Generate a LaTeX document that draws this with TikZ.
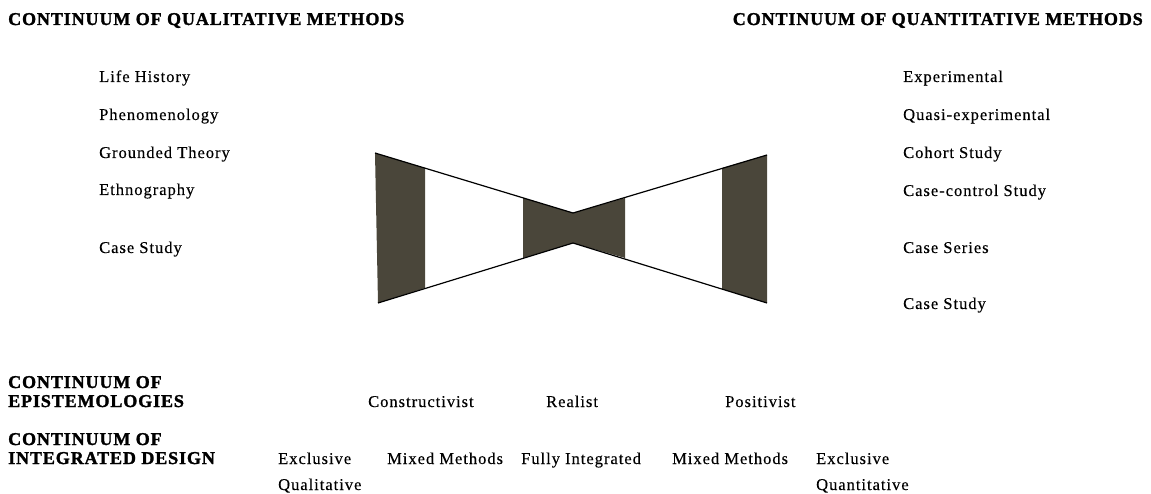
\documentclass[tikz,border=0pt]{standalone}
\usepackage{fontspec}
\setmainfont{Liberation Serif}
\newfontfamily\labfont{Liberation Serif}[LetterSpace=6, FakeBold=0.3]
\newfontfamily\headfont{Liberation Serif}[LetterSpace=5, FakeBold=1.6]
\definecolor{bandgray}{RGB}{74,70,58}

\tikzset{
    lab/.style={anchor=base west, inner sep=0pt, font=\labfont\fontsize{16.5}{19}\selectfont},
    head/.style={anchor=base west, inner sep=0pt, font=\headfont\bfseries\fontsize{18}{19}\selectfont},
    band/.style={fill=bandgray, draw=none},
}

\begin{document}
\begin{tikzpicture}[x=1pt, y=-1pt]

    \useasboundingbox (0,0) rectangle (1151,494);

    % bowtie corners
    \coordinate (LT) at (375,153);
    \coordinate (LB) at (378,303);
    \coordinate (RT) at (767,155);
    \coordinate (RB) at (767,303);
    \coordinate (MT) at (573,213);
    \coordinate (MB) at (573,243);

    % dark bands
    \fill[band] (LT) -- (425,168) -- (425,288) -- (LB) -- cycle;
    \fill[band] (523,198) -- (MT) -- (625,198) -- (625,258) -- (MB) -- (523,258) -- cycle;
    \fill[band] (722,168) -- (RT) -- (RB) -- (722,289) -- cycle;

    % outline of the bowtie
    \draw[line width=1.2pt] (LT) -- (MT) -- (RT);
    \draw[line width=1.2pt] (LB) -- (MB) -- (RB);

    % headings
    \node[head] (qualhead) at (8,25) {CONTINUUM OF QUALITATIVE METHODS};
    \node[head, anchor=base east] (quanthead) at (1143,25) {CONTINUUM OF QUANTITATIVE METHODS};

    % qualitative methods
    \node[lab] (lifehist) at (99,82) {Life History};
    \node[lab] (phenom) at (99,120) {Phenomenology};
    \node[lab] (grounded) at (99,158) {Grounded Theory};
    \node[lab] (ethno) at (99,195) {Ethnography};
    \node[lab] (casestudyL) at (99,253) {Case Study};

    % quantitative methods
    \node[lab] (experim) at (903,82) {Experimental};
    \node[lab] (quasi) at (903,120) {Quasi-experimental};
    \node[lab] (cohort) at (903,158) {Cohort Study};
    \node[lab] (casecontrol) at (903,196) {Case-control Study};
    \node[lab] (caseseries) at (903,253) {Case Series};
    \node[lab] (casestudyR) at (903,309) {Case Study};

    % epistemologies
    \node[head] (epiA) at (8,388) {CONTINUUM OF};
    \node[head] (epiB) at (8,407) {EPISTEMOLOGIES};
    \node[lab] (constr) at (368,407) {Constructivist};
    \node[lab] (realist) at (546,407) {Realist};
    \node[lab] (positiv) at (725,407) {Positivist};

    % integrated design
    \node[head] (desA) at (8,445) {CONTINUUM OF};
    \node[head] (desB) at (8,464) {INTEGRATED DESIGN};
    \node[lab] (exqual) at (278,464) {Exclusive};
    \node[lab] (mixA) at (387,464) {Mixed Methods};
    \node[lab] (fully) at (521,464) {Fully Integrated};
    \node[lab] (mixB) at (672,464) {Mixed Methods};
    \node[lab] (exquant) at (816,464) {Exclusive};
    \node[lab] (qual) at (278,490) {Qualitative};
    \node[lab] (quant) at (816,490) {Quantitative};

\end{tikzpicture}
\end{document}
